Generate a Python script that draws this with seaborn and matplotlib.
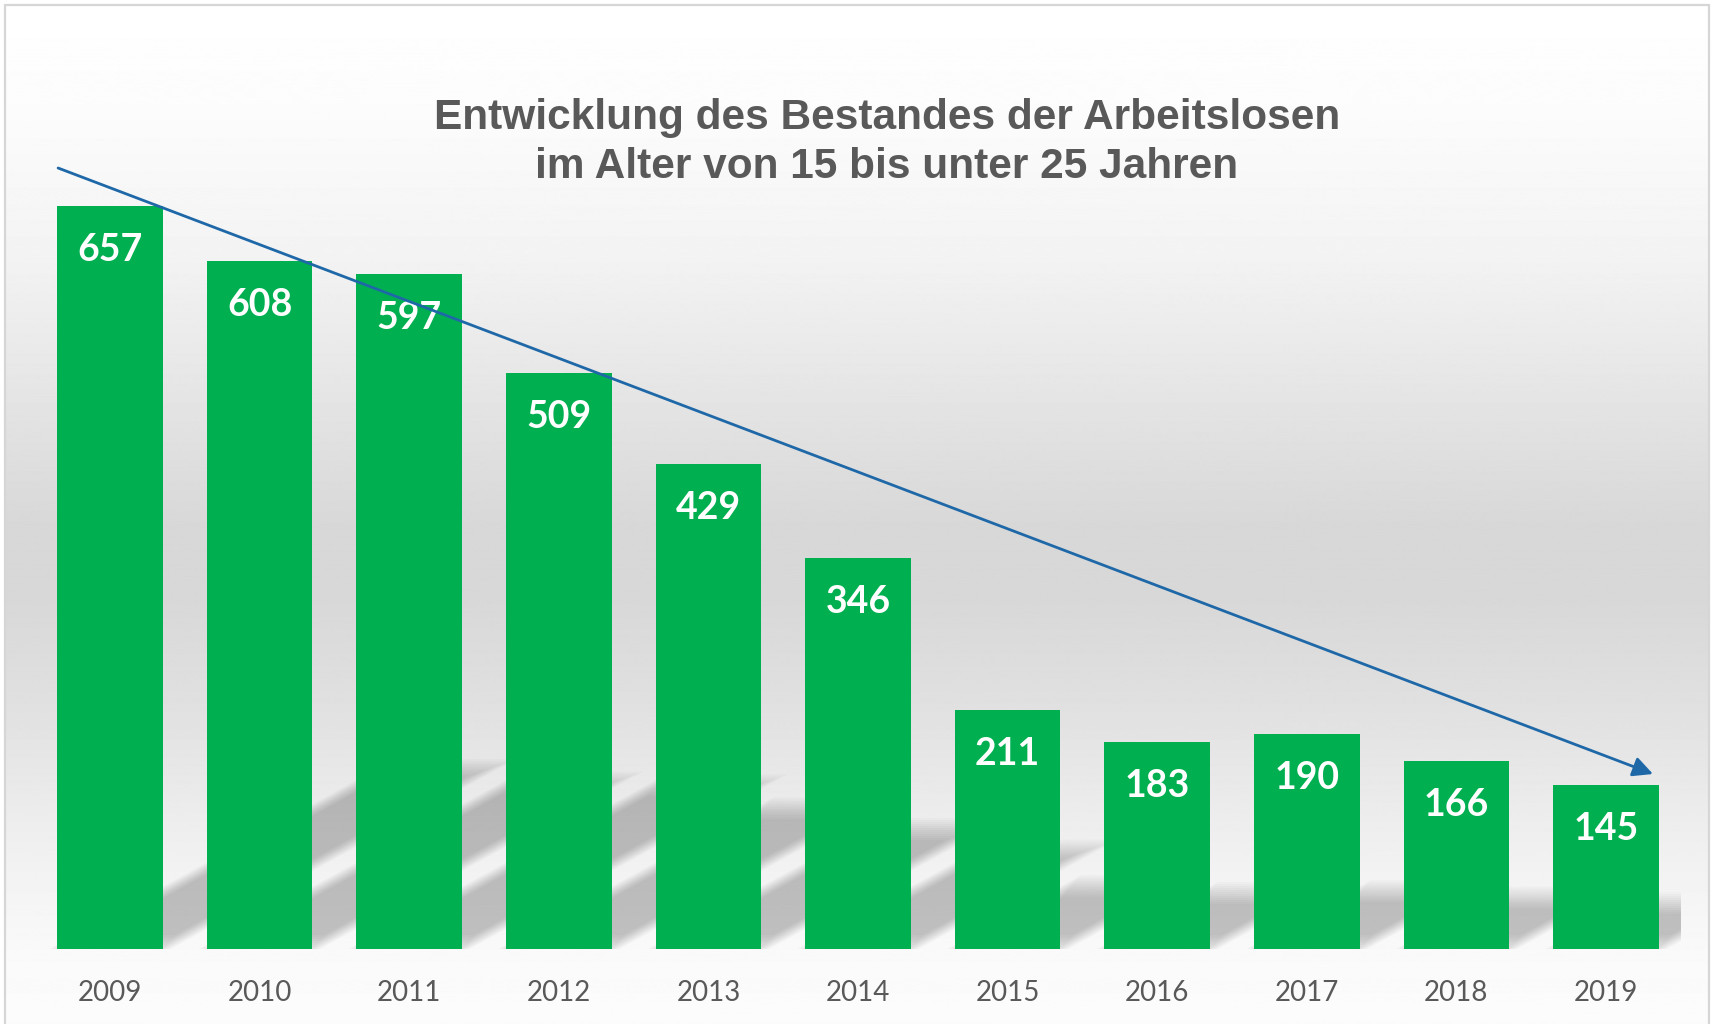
import numpy as np
import matplotlib
matplotlib.use("Agg")
import matplotlib.pyplot as plt
from matplotlib.patches import Polygon, Rectangle
import seaborn as sns

# data
years = ["2009", "2010", "2011", "2012", "2013", "2014",
         "2015", "2016", "2017", "2018", "2019"]
values = [657, 608, 597, 509, 429, 346, 211, 183, 190, 166, 145]
title_lines = [
    "Entwicklung des Bestandes der Arbeitslosen",
    "im Alter von 15 bis unter 25 Jahren",
]

BAR_GREEN = "#00b050"
TEXT_GREY = "#595959"
ARROW_BLUE = "#1f68a8"
BAR_WIDTH = 0.707

W, H = 1711, 1024

sns.set_theme(style="white")
plt.rcParams["font.family"] = ["Lato", "DejaVu Sans"]

fig = plt.figure(figsize=(W / 100, H / 100), dpi=100)
fig.patch.set_facecolor("white")

# soft vertical background gradient inside a thin frame
bg = fig.add_axes([0, 0, 1, 1], zorder=0)
bg.set_axis_off()
stop_px = [0, 100, 250, 400, 520, 600, 700, 800, 880, 960, 1024]
stop_grey = [255, 252, 243, 228, 216, 216, 224, 235, 243, 250, 252]
rows = np.interp(np.arange(H), stop_px, stop_grey) / 255.0
grad = np.repeat(rows[:, None], 2, axis=1)
fx0, fx1 = 5 / W, 1709 / W
fy1 = 1 - 5 / H
bg.imshow(grad, cmap="gray", vmin=0, vmax=1, aspect="auto",
          extent=[fx0, fx1, 0, fy1], origin="upper")
bg.set_xlim(0, 1)
bg.set_ylim(0, 1)
bg.add_patch(Rectangle((fx0, -0.01), fx1 - fx0, fy1 + 0.01, fill=False,
                       edgecolor="#d6d6d6", lw=1.6))

# main chart area
ax_left, ax_right = 35.2, 1680.8
baseline_px, top_px = 949, 134.7
ax = fig.add_axes([ax_left / W, (H - baseline_px) / H,
                   (ax_right - ax_left) / W, (baseline_px - top_px) / H], zorder=1)
ax.set_facecolor("none")

sns.barplot(x=years, y=values, color=BAR_GREEN, saturation=1,
            width=BAR_WIDTH, ax=ax, zorder=3, edgecolor="none", linewidth=0)
ax.set_xlim(-0.5, 10.5)
ax.set_ylim(0, 720)

# perspective shadows behind the bars (layered for a soft edge)
px_x = (ax_right - ax_left) / 11
px_y = (baseline_px - top_px) / 720
for i, v in enumerate(values):
    sh_h = 0.23 * v + 10
    shift = sh_h * px_y / 0.55 / px_x
    for d in np.linspace(-8, 14, 12):
        dx, dy = d / px_x, d / px_y
        x0 = i - BAR_WIDTH / 2 + dx
        x1 = i + BAR_WIDTH / 2 - dx
        y0, y1 = max(dy, 0), sh_h - dy
        if y1 <= y0:
            continue
        s0 = shift * y0 / sh_h
        s1 = shift * y1 / sh_h
        ax.add_patch(Polygon([(x0 + s0, y0), (x1 + s0, y0),
                              (x1 + s1, y1), (x0 + s1, y1)],
                             closed=True, facecolor="black", edgecolor="none",
                             alpha=0.02, zorder=2))

# value labels inside the bars
for i, v in enumerate(values):
    ax.annotate(str(v), (i, v), xytext=(0, -19.5), textcoords="offset points",
                ha="center", va="top", color="white", fontsize=27,
                fontweight="bold", zorder=4)

ax.tick_params(axis="x", length=0, pad=22.5, labelsize=20, labelcolor=TEXT_GREY)
ax.set_yticks([])
ax.set_xlabel("")
ax.set_ylabel("")
sns.despine(ax=ax, left=True, bottom=True)

# trend arrow
ax.annotate("", xy=(0.9831, 0.2149), xytext=(0.0139, 0.9591),
            xycoords="axes fraction",
            arrowprops=dict(arrowstyle="-|>", color=ARROW_BLUE, lw=2,
                            mutation_scale=30, shrinkA=0, shrinkB=0),
            annotation_clip=False, zorder=6)

# title
for line, y_px in zip(title_lines, [117.5, 166.5]):
    fig.text(887 / W, 1 - y_px / H, line, ha="center", va="center",
             fontsize=30.5, fontweight="bold", color=TEXT_GREY,
             family=["Liberation Sans", "DejaVu Sans"], zorder=5)

fig.savefig("out.png", dpi=100)
